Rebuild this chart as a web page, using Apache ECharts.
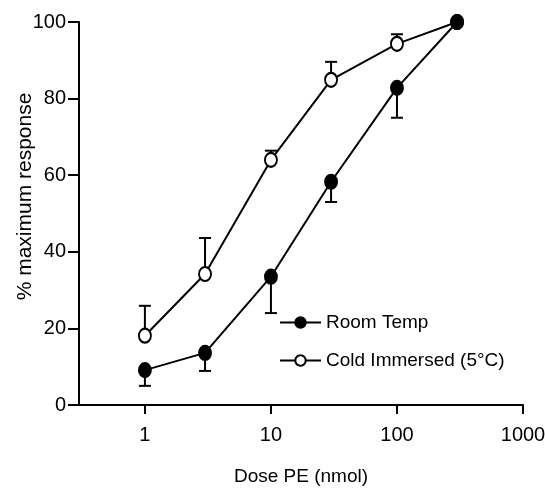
<!DOCTYPE html>
<html>
<head>
<meta charset="utf-8">
<script src="https://cdn.jsdelivr.net/npm/echarts@6/dist/echarts.min.js"></script>
<style>
  html, body { margin: 0; padding: 0; background: #fff; }
  #chart { width: 545px; height: 504px; }
</style>
</head>
<body>
<div id="chart"></div>
<script>
// dose of PE (nmol)
const doses = [1, 3, 10, 30, 100, 300]
// % maximum response, mean and error bar end
const roomTemp = [9.1, 13.6, 33.5, 58.3, 82.8, 100]
const roomTempErr = [5.0, 8.9, 24.0, 53.0, 75.0, null]
const coldImmersed = [18.1, 34.2, 64.0, 84.9, 94.3, 100]
const coldImmersedErr = [25.9, 43.6, 66.4, 89.6, 96.8, null]
const xTicks = [1, 10, 100, 1000]
const yTicks = [0, 20, 40, 60, 80, 100]

const font = '"Liberation Sans Narrow", "Arial Narrow", "Liberation Sans", Arial, sans-serif'

function errorSeries(name, vals, errs) {
  const data = []
  doses.forEach((d, i) => {
    if (errs[i] != null) data.push([d, vals[i], errs[i]])
  })
  return {
    name: name,
    type: 'custom',
    z: 1,
    silent: true,
    data: data,
    encode: { x: 0, y: [1, 2] },
    renderItem: function (params, api) {
      const p0 = api.coord([api.value(0), api.value(1)])
      const p1 = api.coord([api.value(0), api.value(2)])
      const style = { stroke: '#000', lineWidth: 2 }
      return {
        type: 'group',
        children: [
          { type: 'line', shape: { x1: p0[0], y1: p0[1], x2: p1[0], y2: p1[1] }, style: style },
          { type: 'line', shape: { x1: p1[0] - 6, y1: p1[1], x2: p1[0] + 6, y2: p1[1] }, style: style }
        ]
      }
    }
  }
}

const chart = echarts.init(document.getElementById('chart'))
chart.setOption({
  animation: false,
  textStyle: { fontFamily: font },
  grid: { left: 79, right: 22, top: 22, bottom: 99, containLabel: false, outerBoundsMode: 'none' },
  legend: {
    data: ['Room Temp', 'Cold Immersed (5°C)'],
    orient: 'vertical',
    left: 279,
    top: 313,
    padding: 0,
    itemWidth: 41,
    itemHeight: 13,
    itemGap: 19,
    textStyle: { fontFamily: font, fontSize: 19, color: '#000' }
  },
  xAxis: {
    type: 'log',
    logBase: 10,
    min: 0.3,
    max: 1000,
    name: 'Dose PE (nmol)',
    nameLocation: 'middle',
    nameGap: 62,
    nameTextStyle: { fontFamily: font, fontSize: 19, color: '#000' },
    axisLine: { lineStyle: { color: '#000', width: 2 } },
    axisTick: { length: 9, lineStyle: { color: '#000', width: 2 }, customValues: xTicks },
    axisLabel: {
      fontSize: 20, color: '#000', margin: 20, customValues: xTicks,
      formatter: v => String(Math.round(v))
    },
    splitLine: { show: false },
    minorTick: { show: false }
  },
  yAxis: {
    type: 'value',
    min: 0,
    max: 100,
    interval: 20,
    name: '% maximum response',
    nameLocation: 'middle',
    nameGap: 43,
    nameMoveOverlap: false,
    nameTextStyle: { fontFamily: font, fontSize: 21, color: '#000', padding: [0, 0, 0, 34] },
    axisLine: { show: true, lineStyle: { color: '#000', width: 2 } },
    axisTick: { show: true, length: 11, lineStyle: { color: '#000', width: 2 }, customValues: yTicks },
    axisLabel: { fontSize: 20, color: '#000', margin: 13, customValues: yTicks },
    splitLine: { show: false }
  },
  series: [
    errorSeries('Room Temp err', roomTemp, roomTempErr),
    errorSeries('Cold err', coldImmersed, coldImmersedErr),
    {
      name: 'Cold Immersed (5°C)',
      type: 'line',
      z: 3,
      data: doses.map((d, i) => [d, coldImmersed[i]]),
      symbol: 'circle',
      symbolSize: [12, 14],
      lineStyle: { color: '#000', width: 2 },
      itemStyle: { color: '#fff', borderColor: '#000', borderWidth: 2 }
    },
    {
      name: 'Room Temp',
      type: 'line',
      z: 4,
      data: doses.map((d, i) => [d, roomTemp[i]]),
      symbol: 'circle',
      symbolSize: [12, 14],
      lineStyle: { color: '#000', width: 2 },
      itemStyle: { color: '#000', borderColor: '#000', borderWidth: 2 }
    }
  ]
})
</script>
</body>
</html>
